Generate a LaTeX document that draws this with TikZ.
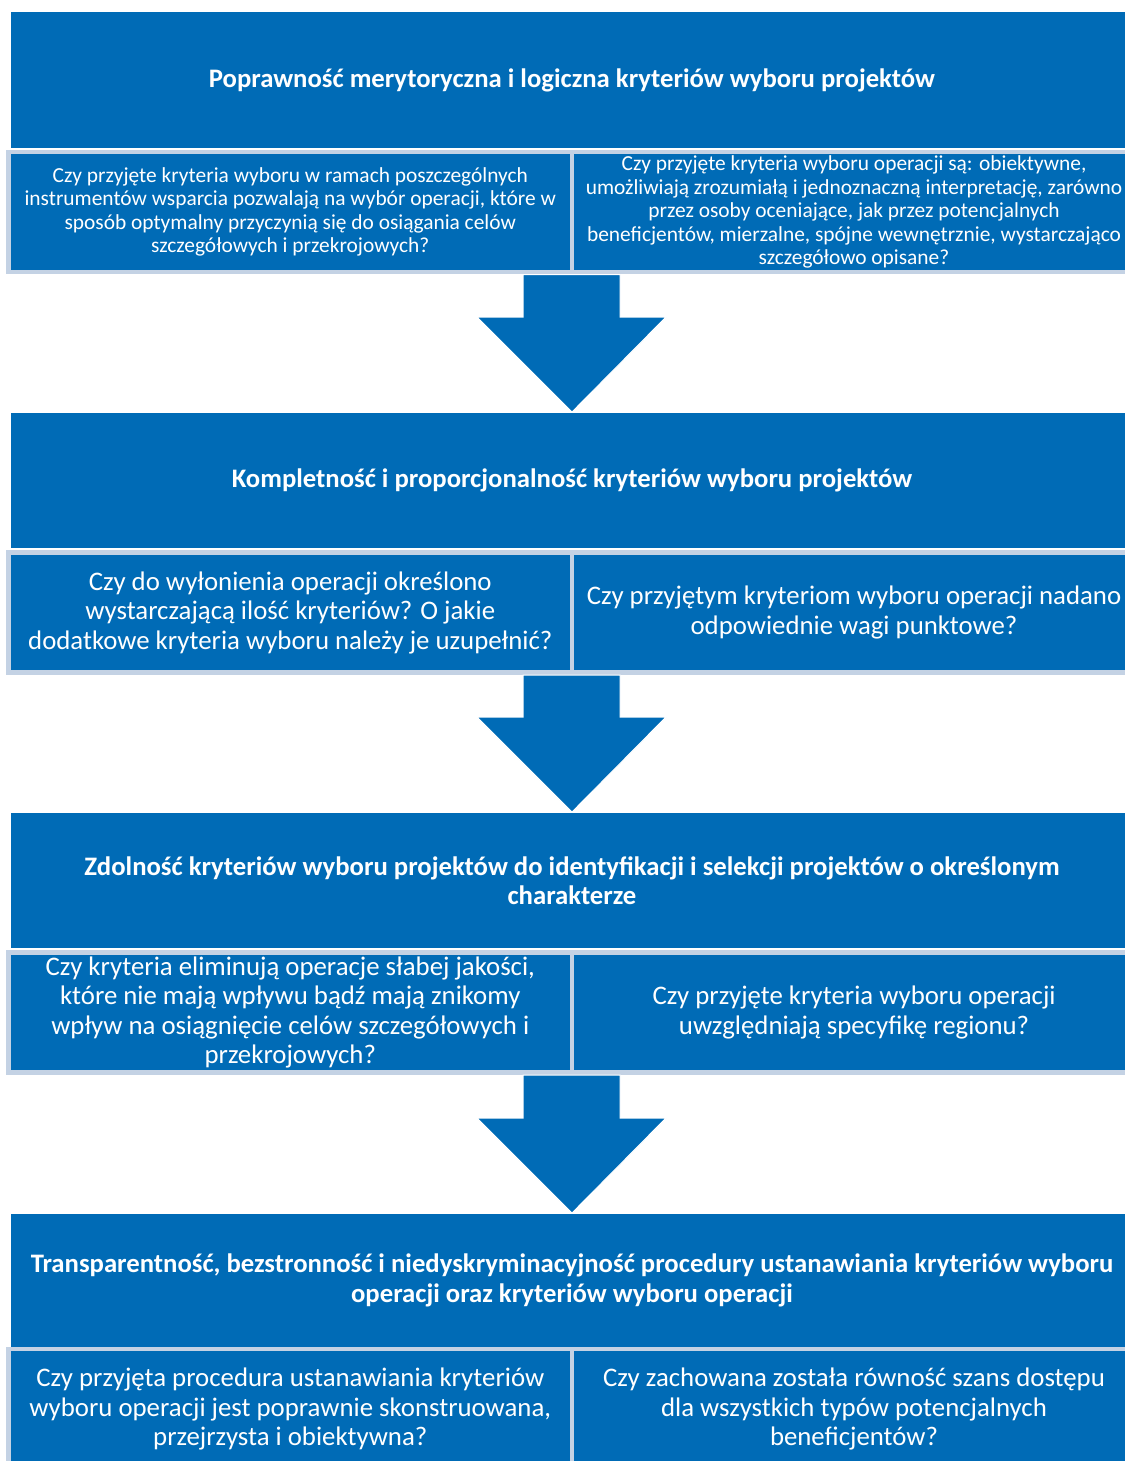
\documentclass[tikz,border=0pt]{standalone}
\usepackage{fontspec}
\setmainfont{Carlito}
\usetikzlibrary{calc}
\definecolor{mblue}{RGB}{0,107,182}
\definecolor{mlight}{RGB}{196,210,228}
\newcommand\bigdown[2]{\path[barrow] let \p1=(#1.south east), \p2=(#2.north) in
  (\x1-49pt,\y1-2.5pt) -- (\x1+48pt,\y1-2.5pt) -- (\x1+48pt,\y2+96pt) -- (\x1+94pt,\y2+96pt)
  -- (\x1,\y2+1pt) -- (\x1-95pt,\y2+96pt) -- (\x1-49pt,\y2+96pt) -- cycle;}
\begin{document}
\begin{tikzpicture}[x=1pt,y=-1pt,
  hdr/.style={rectangle, fill=mblue, text=white, font=\fontsize{26.7}{29.5}\selectfont\bfseries,
    align=center, minimum width=1122pt, anchor=north west, inner sep=0pt, outer sep=0pt},
  qbox/.style={rectangle, fill=mblue, draw=mlight, line width=4.5pt, text=white, align=center,
    minimum height=120pt, inner sep=0pt, outer sep=0pt},
  qleft/.style={qbox, minimum width=563.5pt},
  qright/.style={qbox, minimum width=564pt},
  qsmall/.style={font=\fontsize{21.4}{23.5}\selectfont},
  qbig/.style={font=\fontsize{26.8}{29.5}\selectfont},
  barrow/.style={fill=mblue, draw=white, line width=1pt, line join=miter}]

\useasboundingbox (0,0) rectangle (1124,1461);

% row 1
\node[hdr, minimum height=136pt] (h1) at (11,12) {Poprawność merytoryczna i logiczna kryteriów wyboru projektów};
\node[qleft, qsmall] (l1) at (290.25,212) {Czy przyjęte kryteria wyboru w ramach poszczególnych\\instrumentów wsparcia pozwalają na wybór operacji, które w\\sposób optymalny przyczynią się do osiągania celów\\szczegółowych i przekrojowych?};
\node[qright, qsmall] (r1) at (854,212) {Czy przyjęte kryteria wyboru operacji są: obiektywne,\\umożliwiają zrozumiałą i jednoznaczną interpretację, zarówno\\przez osoby oceniające, jak przez potencjalnych\\beneficjentów, mierzalne, spójne wewnętrznie, wystarczająco\\szczegółowo opisane?};

% row 2
\node[hdr, minimum height=135pt] (h2) at (11,413) {Kompletność i proporcjonalność kryteriów wyboru projektów};
\node[qleft, qbig] (l2) at (290.25,612.5) {Czy do wyłonienia operacji określono\\wystarczającą ilość kryteriów? O jakie\\dodatkowe kryteria wyboru należy je uzupełnić?};
\node[qright, qbig] (r2) at (854,612.5) {Czy przyjętym kryteriom wyboru operacji nadano\\odpowiednie wagi punktowe?};

% row 3
\node[hdr, minimum height=135pt] (h3) at (11,813) {Zdolność kryteriów wyboru projektów do identyfikacji i selekcji projektów o określonym\\charakterze};
\node[qleft, qbig] (l3) at (290.25,1012.5) {Czy kryteria eliminują operacje słabej jakości,\\które nie mają wpływu bądź mają znikomy\\wpływ na osiągnięcie celów szczegółowych i\\przekrojowych?};
\node[qright, qbig] (r3) at (854,1012.5) {Czy przyjęte kryteria wyboru operacji\\uwzględniają specyfikę regionu?};

% row 4
\node[hdr, minimum height=133pt] (h4) at (11,1214) {Transparentność, bezstronność i niedyskryminacyjność procedury ustanawiania kryteriów wyboru\\operacji oraz kryteriów wyboru operacji};
\node[qleft, qbig] (l4) at (290.25,1409) {Czy przyjęta procedura ustanawiania kryteriów\\wyboru operacji jest poprawnie skonstruowana,\\przejrzysta i obiektywna?};
\node[qright, qbig] (r4) at (854,1409) {Czy zachowana została równość szans dostępu\\dla wszystkich typów potencjalnych\\beneficjentów?};

% block arrows
\bigdown{l1}{h2}
\bigdown{l2}{h3}
\bigdown{l3}{h4}
\end{tikzpicture}
\end{document}
